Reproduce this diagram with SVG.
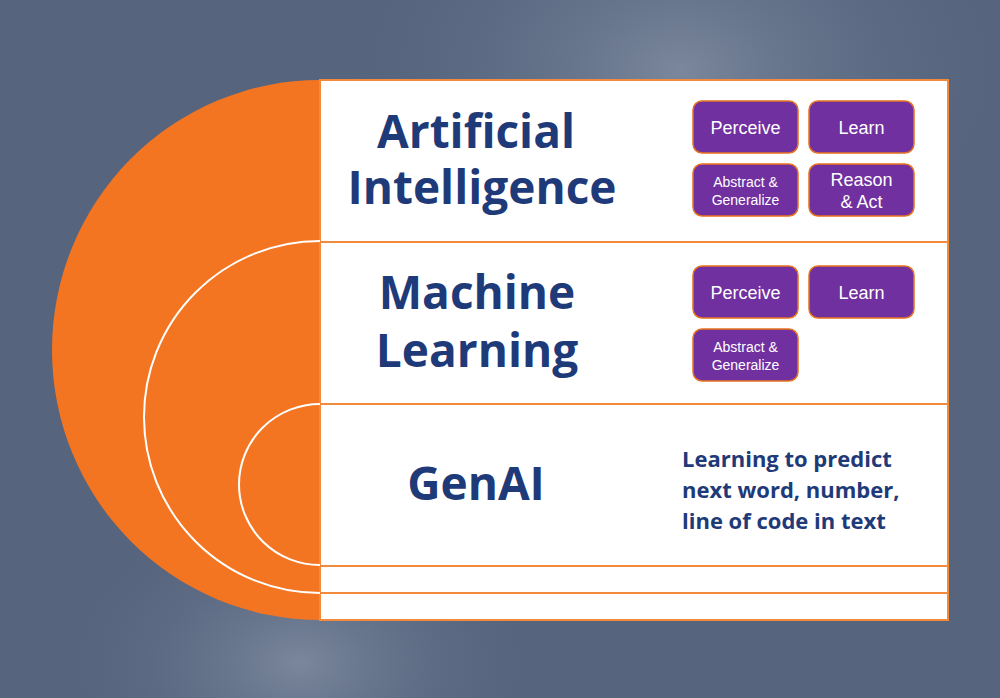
<svg xmlns="http://www.w3.org/2000/svg" width="1000" height="698" viewBox="0 0 1000 698">
<defs>
<radialGradient id="g1" cx="0.68" cy="0.1" r="0.35"><stop offset="0" stop-color="#7a879c"/><stop offset="1" stop-color="#56647e" stop-opacity="0"/></radialGradient>
<radialGradient id="g2" cx="0.3" cy="0.95" r="0.25"><stop offset="0" stop-color="#7a879c"/><stop offset="1" stop-color="#56647e" stop-opacity="0"/></radialGradient>
<style>
.box{fill:#7030a0;stroke:#e8731f;stroke-width:1.5}
.bt{font-family:"Liberation Sans",Arial,sans-serif;fill:#fff;text-anchor:middle}
.title{font-family:"Open Sans","Liberation Sans",sans-serif;font-weight:bold;fill:#1f3a78;text-anchor:middle;font-size:46px}
.sep{stroke:#f28a3c;stroke-width:2}
.arc{fill:none;stroke:#fff;stroke-width:2}
</style>
</defs>
<rect width="1000" height="698" fill="#56647e"/>
<rect width="1000" height="698" fill="url(#g1)"/>
<rect width="1000" height="698" fill="url(#g2)"/>
<g id="shape">
<path d="M320 80 A268 270 0 0 0 320 620 Z" fill="#f47521"/>
<rect x="320" y="80" width="628" height="540" fill="#fff" stroke="#f28a3c" stroke-width="2"/>
<path class="arc" d="M320 241 A176 176 0 0 0 320 593"/>
<path class="arc" d="M320 404 A81 80.5 0 0 0 320 565"/>
</g>
<g id="lines">
<line class="sep" x1="320" y1="242" x2="948" y2="242"/>
<line class="sep" x1="320" y1="404" x2="948" y2="404"/>
<line class="sep" x1="320" y1="566" x2="948" y2="566"/>
<line class="sep" x1="320" y1="593" x2="948" y2="593"/>
</g>
<g id="ai">
<text class="title" x="476" y="148">Artificial</text>
<text class="title" x="482" y="204">Intelligence</text>
</g>
<g id="ml">
<text class="title" x="477" y="309">Machine</text>
<text class="title" x="477" y="367">Learning</text>
</g>
<g id="genai">
<text class="title" x="476" y="500">GenAI</text>
<text font-family="'Open Sans','Liberation Sans',sans-serif" font-weight="bold" font-size="22" fill="#1f3a78"><tspan x="682" y="467">Learning to predict</tspan><tspan x="682" y="498">next word, number,</tspan><tspan x="682" y="529">line of code in text</tspan></text>
</g>
<g id="ai-perceive"><rect class="box" x="693" y="101" width="105" height="52" rx="9"/><text class="bt" x="745.5" y="134" font-size="18">Perceive</text></g>
<g id="ai-learn"><rect class="box" x="809" y="101" width="105" height="52" rx="9"/><text class="bt" x="861.5" y="134" font-size="18">Learn</text></g>
<g id="ai-abstract"><rect class="box" x="693" y="164" width="105" height="52" rx="9"/><text class="bt" x="745.5" y="187" font-size="14">Abstract &amp;</text><text class="bt" x="745.5" y="205" font-size="14">Generalize</text></g>
<g id="ai-reason"><rect class="box" x="809" y="164" width="105" height="52" rx="9"/><text class="bt" x="861.5" y="186" font-size="18">Reason</text><text class="bt" x="861.5" y="208" font-size="18">&amp; Act</text></g>
<g id="ml-perceive"><rect class="box" x="693" y="266" width="105" height="52" rx="9"/><text class="bt" x="745.5" y="299" font-size="18">Perceive</text></g>
<g id="ml-learn"><rect class="box" x="809" y="266" width="105" height="52" rx="9"/><text class="bt" x="861.5" y="299" font-size="18">Learn</text></g>
<g id="ml-abstract"><rect class="box" x="693" y="329" width="105" height="52" rx="9"/><text class="bt" x="745.5" y="352" font-size="14">Abstract &amp;</text><text class="bt" x="745.5" y="370" font-size="14">Generalize</text></g>
</svg>
